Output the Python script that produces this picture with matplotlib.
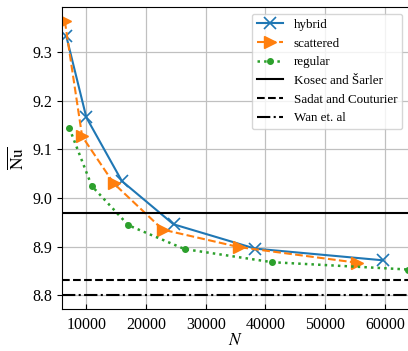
import numpy as np
import matplotlib
matplotlib.use("Agg")
import matplotlib.pyplot as plt

plt.rcParams['font.family'] = 'serif'
plt.rcParams['font.serif'] = ['Liberation Serif', 'DejaVu Serif']
plt.rcParams['mathtext.fontset'] = 'stix'

# data
hybrid_N = [6650, 10000, 15950, 24600, 38250, 59600]
hybrid_Nu = [9.333, 9.166, 9.035, 8.946, 8.896, 8.872]

scattered_N = [6400, 9300, 14600, 22800, 35600, 55300]
scattered_Nu = [9.364, 9.127, 9.030, 8.935, 8.899, 8.867]

regular_N = [7150, 10900, 17050, 26450, 41150, 63850]
regular_Nu = [9.144, 9.025, 8.944, 8.895, 8.868, 8.853]

kosec = 8.970
sadat = 8.832
wan = 8.800

fig = plt.figure(figsize=(4.08, 3.51), dpi=100)
ax = fig.add_axes([0.152, 0.12, 0.85, 0.86])

ax.plot(hybrid_N, hybrid_Nu, '-', color='C0', marker='x', ms=8, mew=1.2, lw=1.5, label='hybrid')
ax.plot(scattered_N, scattered_Nu, '--', color='C1', marker='>', ms=8, lw=1.5, label='scattered')
ax.plot(regular_N, regular_Nu, ':', color='C2', marker='.', ms=8, lw=1.8, label='regular')
ax.axhline(kosec, color='k', ls='-', lw=1.5, label=r'Kosec and Šarler')
ax.axhline(sadat, color='k', ls='--', lw=1.5, label='Sadat and Couturier')
ax.axhline(wan, color='k', ls='-.', lw=1.5, label='Wan et. al')

ax.set_xlim(5930, 64000)
ax.set_ylim(8.772, 9.393)
ax.set_xticks([10000, 20000, 30000, 40000, 50000, 60000])
ax.set_yticks([8.8, 8.9, 9.0, 9.1, 9.2, 9.3])
ax.tick_params(labelsize=11.5)
ax.tick_params(axis='x', direction='in', pad=6)
ax.grid(True, color='#c0c0c0', lw=0.9)
ax.set_axisbelow(True)

ax.set_xlabel(r'$N$', fontsize=12.5, labelpad=0)
ax.set_ylabel(r'$\overline{\mathrm{Nu}}$', fontsize=12.5)

ax.legend(loc='upper right', fontsize=9.4)

fig.savefig('out.png', dpi=100)
